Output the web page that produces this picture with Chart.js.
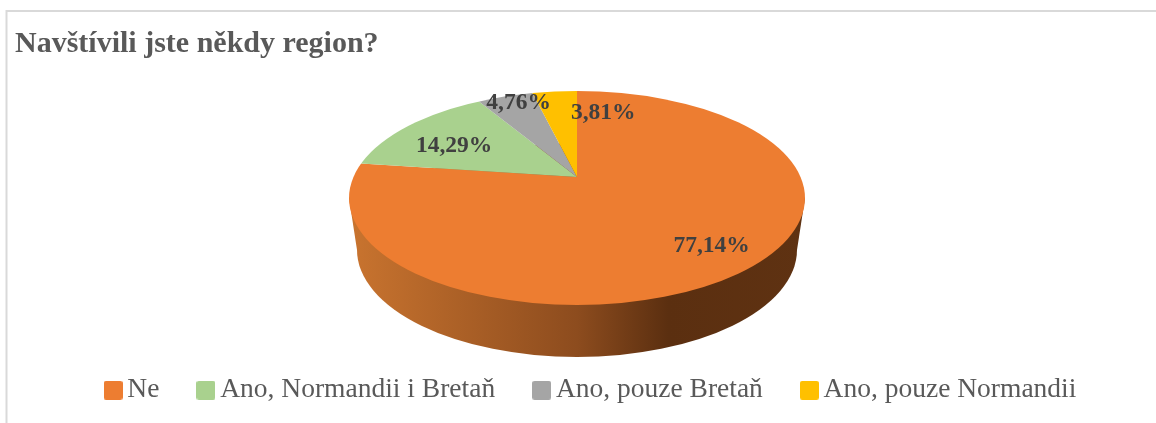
<!DOCTYPE html>
<html><head><meta charset="utf-8">
<script src="https://cdn.jsdelivr.net/npm/chart.js@4"></script>
<style>html,body{margin:0;padding:0;background:#fff}#w{position:relative;width:1156px;height:423px}</style>
</head><body><div id="w"><canvas id="c" width="1156" height="423"></canvas></div>
<script>
const chartTitle = 'Navštívili jste někdy region?';
const categories = ['Ne', 'Ano, Normandii i Bretaň', 'Ano, pouze Bretaň', 'Ano, pouze Normandii'];
const values = [77.14, 14.29, 4.76, 3.81];
const colors = ['#ED7D31', '#A9D18E', '#A5A5A5', '#FFC000'];
const labelTexts = ['77,14%', '14,29%', '4,76%', '3,81%'];

const SERIF = '"Liberation Serif", serif';
const apex = {x: 577, y: 177}, tilt = 0.46;
const top3d = {x: 577, y: 198, rx: 228, ry: 107};
const bot3d = {x: 577, y: 250, rx: 220, ry: 107};
const labelPlace = [{r: 200, dx: 3, dy: 0}, {r: 140, dx: -6, dy: 4}, {r: 175, dx: 8, dy: 0}, {r: 140, dx: 43, dy: 0}];

function swatch(color) {
  const s = document.createElement('canvas');
  s.width = 19; s.height = 19;
  const x = s.getContext('2d');
  x.fillStyle = color;
  x.beginPath(); x.roundRect(0, 0, 19, 19, 2.5); x.fill();
  return s;
}

const pie3d = {
  id: 'pie3d',
  beforeDraw(chart) {
    const c = chart.ctx;
    c.save();
    c.fillStyle = '#fff'; c.fillRect(0, 0, chart.width, chart.height);
    c.strokeStyle = '#d9d9d9'; c.lineWidth = 2;
    c.beginPath(); c.moveTo(6.5, chart.height); c.lineTo(6.5, 11); c.lineTo(chart.width, 11); c.stroke();
    c.restore();
  },
  beforeDatasetsDraw(chart) {
    const c = chart.ctx, arc = chart.getDatasetMeta(0).data[0];
    const g = c.createLinearGradient(top3d.x - top3d.rx, 0, top3d.x + top3d.rx, 0);
    g.addColorStop(0, '#C9742F'); g.addColorStop(0.5, '#8D4C1E'); g.addColorStop(0.70, '#5B2F10'); g.addColorStop(1, '#5F3212');
    c.save();
    c.fillStyle = g;
    c.beginPath(); c.ellipse(bot3d.x, bot3d.y, bot3d.rx, bot3d.ry, 0, 0, Math.PI * 2); c.fill();
    c.beginPath();
    c.moveTo(top3d.x - top3d.rx, top3d.y); c.lineTo(top3d.x + top3d.rx, top3d.y);
    c.lineTo(bot3d.x + bot3d.rx, bot3d.y); c.lineTo(bot3d.x - bot3d.rx, bot3d.y); c.closePath(); c.fill();
    c.restore();
    c.save();
    c.beginPath(); c.ellipse(top3d.x, top3d.y, top3d.rx, top3d.ry, 0, 0, Math.PI * 2); c.clip();
    c.translate(apex.x, apex.y); c.scale(1, tilt); c.translate(-arc.x, -arc.y);
  },
  afterDatasetsDraw(chart) {
    const c = chart.ctx, meta = chart.getDatasetMeta(0);
    c.restore();
    c.save();
    c.font = 'bold 23.5px ' + SERIF; c.fillStyle = '#404040'; c.textAlign = 'center'; c.textBaseline = 'middle';
    meta.data.forEach((a, i) => {
      const mid = (a.startAngle + a.endAngle) / 2, p = labelPlace[i];
      c.fillText(labelTexts[i], apex.x + Math.cos(mid) * p.r + p.dx, apex.y + Math.sin(mid) * p.r * tilt + p.dy);
    });
    c.restore();
  }
};

new Chart(document.getElementById('c'), {
  type: 'pie',
  data: {labels: categories, datasets: [{data: values, backgroundColor: colors, borderWidth: 0, radius: 300, clip: false}]},
  options: {
    responsive: false, animation: false,
    layout: {padding: {left: 15, right: -18, bottom: 9}},
    plugins: {
      tooltip: {enabled: false},
      title: {display: true, text: chartTitle, align: 'start', color: '#595959',
        font: {family: SERIF, size: 30, weight: 'bold'}, padding: {top: 26, bottom: 10}},
      legend: {display: true, position: 'bottom', align: 'center',
        labels: {
          color: '#595959', font: {family: SERIF, size: 27.5}, padding: 46,
          usePointStyle: true, pointStyleWidth: 1,
          generateLabels: () => categories.map((t, i) => ({text: t, fontColor: '#595959', pointStyle: swatch(colors[i]), fillStyle: colors[i], strokeStyle: colors[i], lineWidth: 0, hidden: false, index: i}))
        }}
    }
  },
  plugins: [pie3d]
});
</script></body></html>
